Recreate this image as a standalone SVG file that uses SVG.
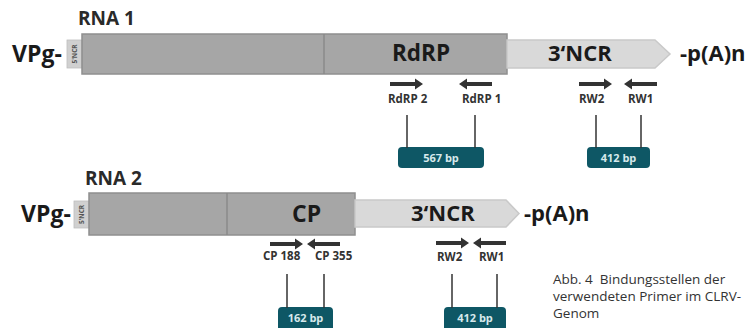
<svg xmlns="http://www.w3.org/2000/svg" width="753" height="328" viewBox="0 0 753 328">
<style>
.bg{fill:#ffffff}
.bar{fill:#a6a6a6;stroke:#8f8f8f;stroke-width:1.5}
.div{stroke:#8a8a8a;stroke-width:1.5}
.ncr3{fill:#d9d9d9;stroke:#c9c9c9;stroke-width:1.5}
.ncr5{fill:#d0d0d0;stroke:#bdbdbd;stroke-width:0.8}
.t5{font-family:"Open Sans","Liberation Sans",sans-serif;font-size:6.5px;font-weight:bold;fill:#555}
.big{font-family:"Open Sans","Liberation Sans",sans-serif;font-weight:bold;fill:#1a1a1a}
.title{font-family:"Open Sans","Liberation Sans",sans-serif;font-weight:bold;font-size:19px;fill:#2a2a2a}
.lab{font-family:"Open Sans","Liberation Sans",sans-serif;font-weight:bold;font-size:11.5px;fill:#333}
.arr{fill:#333}
.ln{stroke:#333;stroke-width:1.5}
.box{fill:#0e5765}
.bp{font-family:"Open Sans","Liberation Sans",sans-serif;font-weight:bold;font-size:11px;fill:#d7e9ec;text-anchor:middle}
.cap{font-family:"Open Sans","Liberation Sans",sans-serif;font-size:13.5px;fill:#333}
</style>
<defs>
<path id="arr" d="M0,-2 H25 V-5.5 L33,0 L25,5.5 V2 H0 Z"/>
</defs>
<rect class="bg" x="0" y="0" width="753" height="328"/>

<!-- RNA 1 -->
<g id="rna1-title"><text class="title" x="78" y="25">RNA 1</text></g>
<g id="rna1-vpg"><text class="big" x="12" y="62" font-size="23">VPg-</text></g>
<g id="rna1-5ncr">
<rect class="ncr5" x="67" y="40" width="15" height="28"/>
<text class="t5" transform="translate(77,54) rotate(-90)" text-anchor="middle">5'NCR</text>
</g>
<g id="rna1-orf">
<rect class="bar" x="82" y="34" width="425" height="40"/>
<line class="div" x1="324" y1="34" x2="324" y2="74"/>
<text class="big" x="392" y="61" font-size="22.5">RdRP</text>
</g>
<g id="rna1-3ncr">
<polygon class="ncr3" points="507,40 655,40 670,54 655,68 507,68"/>
<text class="big" x="548" y="61" font-size="22">3‘NCR</text>
</g>
<g id="rna1-polya"><text class="big" x="680" y="61" font-size="22">-p(A)n</text></g>

<g id="rna1-primers">
<use href="#arr" class="arr" transform="translate(390,84)"/>
<use href="#arr" class="arr" transform="translate(492,84) scale(-1,1)"/>
<use href="#arr" class="arr" transform="translate(579,84)"/>
<use href="#arr" class="arr" transform="translate(657,84) scale(-1,1)"/>
<text class="lab" x="388" y="103">RdRP 2</text>
<text class="lab" x="462" y="103">RdRP 1</text>
<text class="lab" x="579" y="103">RW2</text>
<text class="lab" x="628" y="103">RW1</text>
</g>
<g id="rna1-567bp">
<rect class="box" x="398" y="147" width="86" height="21" rx="4"/>
<text class="bp" x="441" y="161.5">567 bp</text>
</g>
<g id="rna1-412bp">
<rect class="box" x="587" y="147" width="63" height="21" rx="4"/>
<text class="bp" x="618.5" y="161.5">412 bp</text>
</g>

<!-- RNA 2 -->
<g id="rna2-title"><text class="title" x="85" y="185">RNA 2</text></g>
<g id="rna2-vpg"><text class="big" x="21" y="222" font-size="23">VPg-</text></g>
<g id="rna2-5ncr">
<rect class="ncr5" x="74" y="201" width="15" height="27"/>
<text class="t5" transform="translate(84,214.5) rotate(-90)" text-anchor="middle">5'NCR</text>
</g>
<g id="rna2-orf">
<rect class="bar" x="89" y="193" width="266" height="42"/>
<line class="div" x1="227" y1="193" x2="227" y2="235"/>
<text class="big" x="292" y="222" font-size="23">CP</text>
</g>
<g id="rna2-3ncr">
<polygon class="ncr3" points="355,200 506,200 519,213.5 506,227 355,227"/>
<text class="big" x="411" y="221" font-size="22">3‘NCR</text>
</g>
<g id="rna2-polya"><text class="big" x="524" y="221" font-size="22">-p(A)n</text></g>

<g id="rna2-primers">
<use href="#arr" class="arr" transform="translate(270,244)"/>
<use href="#arr" class="arr" transform="translate(340,244) scale(-1,1)"/>
<use href="#arr" class="arr" transform="translate(436,243)"/>
<use href="#arr" class="arr" transform="translate(506,243) scale(-1,1)"/>
<text class="lab" x="263" y="260">CP 188</text>
<text class="lab" x="315" y="260">CP 355</text>
<text class="lab" x="437" y="261">RW2</text>
<text class="lab" x="479" y="261">RW1</text>
</g>
<g id="rna2-162bp">
<rect class="box" x="278" y="307" width="55" height="24" rx="4"/>
<text class="bp" x="305.5" y="321.5" font-size="9.5">162 bp</text>
</g>
<g id="rna2-412bp">
<rect class="box" x="444" y="307" width="62" height="24" rx="4"/>
<text class="bp" x="475" y="322">412 bp</text>
</g>

<g id="connectors">
<line class="ln" x1="407" y1="115" x2="407" y2="148"/>
<line class="ln" x1="475" y1="115" x2="475" y2="148"/>
<line class="ln" x1="596" y1="115" x2="596" y2="148"/>
<line class="ln" x1="641" y1="115" x2="641" y2="148"/>
<line class="ln" x1="287" y1="274" x2="287" y2="308"/>
<line class="ln" x1="324" y1="274" x2="324" y2="308"/>
<line class="ln" x1="452" y1="274" x2="452" y2="308"/>
<line class="ln" x1="497" y1="274" x2="497" y2="308"/>
</g>

<g id="caption">
<text class="cap" x="553" y="284" xml:space="preserve">Abb. 4  Bindungsstellen der</text>
<text class="cap" x="553" y="301">verwendeten Primer im CLRV-</text>
<text class="cap" x="553" y="318">Genom</text>
</g>
</svg>
